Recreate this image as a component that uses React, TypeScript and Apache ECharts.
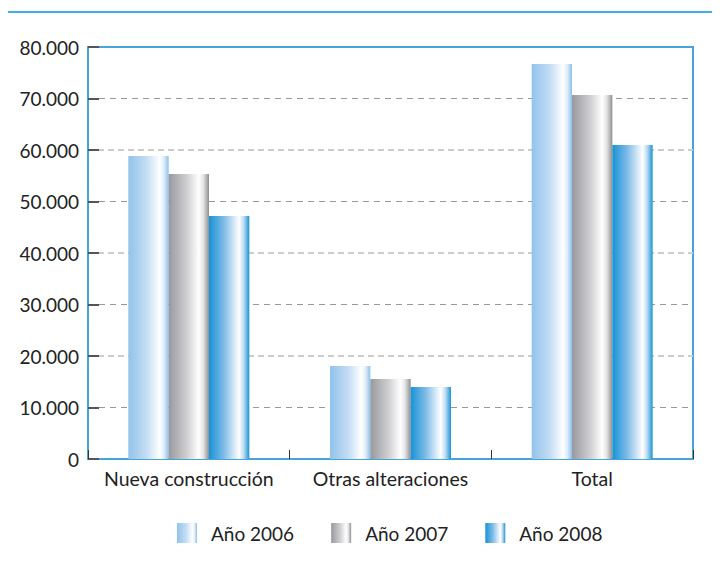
import React, { useEffect, useRef } from "react";
import * as echarts from "echarts";

const categories = ["Nueva construcción", "Otras alteraciones", "Total"];
const seriesNames = ["Año 2006", "Año 2007", "Año 2008"];
const values2006 = [58830, 18060, 76700];
const values2007 = [55340, 15530, 70680];
const values2008 = [47180, 13980, 60970];
const yTicks = { min: 0, max: 80000, interval: 10000 };

const FONT = "Lato, 'Open Sans', sans-serif";

function grad(stops: [number, string][]) {
  return new echarts.graphic.LinearGradient(
    0, 0, 1, 0,
    stops.map(([offset, color]) => ({ offset, color }))
  );
}

const gradients = [
  grad([[0, "#92c2ea"], [0.45, "#c3ddf4"], [0.78, "#ffffff"], [0.88, "#e0eefa"], [1, "#8cbfe9"]]),
  grad([[0, "#98999e"], [0.45, "#cfcfd1"], [0.75, "#ffffff"], [0.86, "#e4e4e6"], [0.95, "#aeaeb1"], [1, "#8e8e92"]]),
  grad([[0, "#1793d5"], [0.35, "#78b8e6"], [0.75, "#ffffff"], [0.86, "#bddcf2"], [1, "#1a94d5"]]),
];

function fmt(v: number): string {
  const s = String(Math.round(v));
  return s.replace(/\B(?=(\d{3})+(?!\d))/g, ".");
}

export default function App() {
  const ref = useRef<HTMLDivElement>(null);
  useEffect(() => {
    if (!ref.current) return;
    const chart = echarts.init(ref.current, undefined, { renderer: "svg" });
    const data = [values2006, values2007, values2008];
    chart.setOption({
      animation: false,
      backgroundColor: "#ffffff",
      graphic: [
        {
          type: "line",
          shape: { x1: 0, y1: 12, x2: 720, y2: 12 },
          style: { stroke: "#3fb0e2", lineWidth: 2 },
          z: 10,
        },
      ],
      grid: {
        left: 88,
        right: 27,
        top: 47,
        bottom: 108,
        show: true,
        borderColor: "#45a5da",
        borderWidth: 2,
        backgroundColor: "transparent",
      },
      legend: {
        bottom: 19,
        left: 172,
        icon: "rect",
        itemWidth: 20,
        itemHeight: 20,
        itemGap: 37,
        textStyle: { fontFamily: FONT, fontSize: 19, color: "#222", padding: [0, 0, 0, 9] },
        data: seriesNames,
      },
      xAxis: {
        type: "category",
        data: categories,
        axisLine: { show: true, lineStyle: { color: "#45a5da", width: 2 } },
        axisTick: { show: true, inside: true, length: 9, lineStyle: { color: "#333" } },
        axisLabel: { fontFamily: FONT, fontSize: 19.5, color: "#222", margin: 9, interval: 0 },
      },
      yAxis: [
        {
          type: "value",
          min: yTicks.min,
          max: yTicks.max,
          interval: yTicks.interval,
          axisLine: { show: false },
          axisTick: { show: true, inside: true, length: 11, lineStyle: { color: "#555", width: 2 } },
          axisLabel: {
            fontFamily: FONT,
            fontSize: 19,
            color: "#222",
            margin: 9,
            formatter: (v: number) => fmt(v),
          },
          splitLine: {
            show: true,
            showMinLine: false,
            showMaxLine: false,
            lineStyle: { color: ["#999999", "transparent"], type: [6, 5], width: 1 },
          },
        },
        {
          type: "value",
          position: "left",
          min: yTicks.min,
          max: yTicks.max,
          interval: yTicks.interval * 2,
          axisLine: { show: false },
          axisTick: { show: false },
          axisLabel: { show: false },
          splitLine: {
            show: true,
            showMinLine: false,
            showMaxLine: false,
            lineStyle: { color: "#cccccc", type: [6, 4], width: 2 },
          },
        },
      ],
      series: seriesNames.map((name, i) => ({
        name,
        type: "bar",
        data: data[i],
        barGap: "0%",
        barCategoryGap: "40%",
        itemStyle: { color: gradients[i] },
      })),
    });
    return () => chart.dispose();
  }, []);
  return <div ref={ref} style={{ width: 720, height: 567, margin: -8 }} />;
}
